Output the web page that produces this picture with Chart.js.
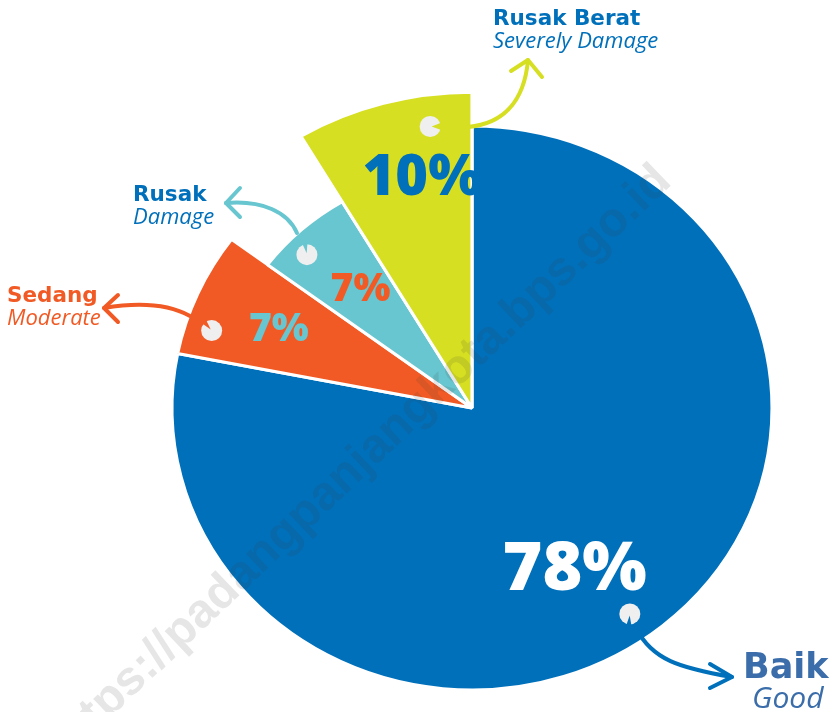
<!DOCTYPE html>
<html>
<head>
<meta charset="utf-8">
<script src="https://cdn.jsdelivr.net/npm/chart.js@4.4.0/dist/chart.umd.min.js"></script>
<style>
  html, body { margin: 0; padding: 0; background: #ffffff; }
  #wrap { position: relative; width: 835px; height: 712px; }
</style>
</head>
<body>
<div id="wrap"><canvas id="kondisiChart" width="835" height="712"></canvas></div>
<script>
// data (slice angles), printed labels kept as shown
const categories = ['Baik', 'Sedang', 'Rusak', 'Rusak Berat'];
const categoriesEn = ['Good', 'Moderate', 'Damage', 'Severely Damage'];
const shares = [78.1, 7.1, 6.3, 8.5];
const percentLabels = ['78%', '7%', '7%', '10%'];

// styles
const sliceColors = ['#0070bb', '#f15a24', '#67c6cf', '#d6df21'];
const percentColors = ['#ffffff', '#67c6cf', '#f15a24', '#0070bb'];
const nameColors = ['#3a6daa', '#f15a24', '#0070bb', '#0070bb'];
const radiusScale = [1, 1, 0.85, 1.12];
const STRETCH = 1.064; // the picture is a bit wider than tall

// where on each slice the text / icon sits: t = along the angle, f = along the radius
const percentPos = [[0.531, 0.67], [0.47, 0.70], [0.52, 0.66], [0.62, 0.74]];
const percentSize = [68, 39, 39, 56];
const iconPos = [[0.513, 0.90], [0.25, 0.91], [0.35, 0.91], [0.74, 0.90]];
const iconNotch = [95, -130, -100, 0];

function polar(arc, t, f) {
    const a = arc.startAngle + t * (arc.endAngle - arc.startAngle);
    const r = f * arc.outerRadius;
    return { x: arc.x + Math.cos(a) * r * STRETCH, y: arc.y + Math.sin(a) * r };
}

const varRadius = {
    id: 'varRadius',
    afterDatasetsUpdate(chart) {
        const meta = chart.getDatasetMeta(0);
        const base = meta.controller.outerRadius;
        meta.data.forEach((arc, i) => { arc.outerRadius = base * radiusScale[i]; });
    },
    beforeDatasetsDraw(chart) {
        const arc = chart.getDatasetMeta(0).data[0];
        const ctx = chart.ctx;
        ctx.save();
        ctx.translate(arc.x, arc.y);
        ctx.scale(STRETCH, 1);
        ctx.translate(-arc.x, -arc.y);
    },
    afterDatasetsDraw(chart) {
        chart.ctx.restore();
    }
};

function arrow(ctx, cx, cy, pts, color) {
    // pts: start, cp1, cp2, end, arm1, arm2 (relative to chart centre)
    const p = pts.map(q => [cx + q[0], cy + q[1]]);
    ctx.save();
    ctx.strokeStyle = color;
    ctx.lineWidth = 4;
    ctx.lineCap = 'round';
    ctx.lineJoin = 'round';
    ctx.beginPath();
    ctx.moveTo(p[0][0], p[0][1]);
    ctx.bezierCurveTo(p[1][0], p[1][1], p[2][0], p[2][1], p[3][0], p[3][1]);
    ctx.stroke();
    ctx.beginPath();
    ctx.moveTo(p[4][0], p[4][1]);
    ctx.lineTo(p[3][0], p[3][1]);
    ctx.lineTo(p[5][0], p[5][1]);
    ctx.stroke();
    ctx.restore();
}

const arrowPaths = [
    [[164, 220], [180, 252], [208, 260], [260, 269], [238, 256], [238, 280]],
    [[-282, -92], [-302, -103], [-332, -106], [-368, -100], [-354, -113], [-354, -86]],
    [[-175, -175], [-184, -196], [-210, -208], [-246, -205], [-232, -220], [-232, -191]],
    [[-4, -281], [28, -284], [52, -303], [56, -348], [39, -337], [70, -331]]
];
// name label anchors relative to centre: [x, y bold baseline, y italic baseline, bold size, italic size, italic dx]
const namePos = [
    [271, 270, 300, 35, 30, 9],
    [-465, -106, -83, 21.5, 22, 0],
    [-339, -207, -184, 21.5, 22, 0],
    [21, -383, -360, 21.5, 22, 0]
];

const decorations = {
    id: 'decorations',
    afterDraw(chart) {
        const ctx = chart.ctx;
        const arcs = chart.getDatasetMeta(0).data;
        const cx = arcs[0].x, cy = arcs[0].y;

        arcs.forEach((arc, i) => {
            // little pie icon
            const ic = polar(arc, iconPos[i][0], iconPos[i][1]);
            ctx.fillStyle = '#efefef';
            ctx.beginPath();
            ctx.arc(ic.x, ic.y, 10.5, 0, Math.PI * 2);
            ctx.fill();
            const d = iconNotch[i] * Math.PI / 180;
            const hw = i === 3 ? 0.32 : 0.22;
            ctx.fillStyle = sliceColors[i];
            ctx.beginPath();
            ctx.moveTo(ic.x + Math.cos(d) * 1.5, ic.y + Math.sin(d) * 1.5);
            ctx.arc(ic.x, ic.y, 11.5, d - hw, d + hw);
            ctx.closePath();
            ctx.fill();

            // percentage
            const p = polar(arc, percentPos[i][0], percentPos[i][1]);
            ctx.fillStyle = percentColors[i];
            ctx.font = '800 ' + percentSize[i] + 'px "Open Sans", sans-serif';
            ctx.textAlign = 'center';
            ctx.textBaseline = 'middle';
            ctx.fillText(percentLabels[i], p.x, p.y);
        });

        arcs.forEach((arc, i) => {
            arrow(ctx, cx, cy, arrowPaths[i], sliceColors[i]);
            const n = namePos[i];
            ctx.textAlign = 'left';
            ctx.textBaseline = 'alphabetic';
            ctx.fillStyle = nameColors[i];
            ctx.font = 'bold ' + n[3] + 'px "DejaVu Sans", sans-serif';
            ctx.fillText(categories[i], cx + n[0], cy + n[1]);
            ctx.font = 'italic 400 ' + n[4] + 'px "Open Sans", sans-serif';
            ctx.fillText(categoriesEn[i], cx + n[0] + n[5], cy + n[2]);
        });

        // watermark, anchored at its right end
        ctx.save();
        ctx.translate(664, 174);
        ctx.rotate(-43.5 * Math.PI / 180);
        ctx.fillStyle = 'rgba(60, 60, 60, 0.13)';
        ctx.font = 'bold 48px "Liberation Sans", Arial, sans-serif';
        ctx.textAlign = 'right';
        ctx.textBaseline = 'middle';
        ctx.fillText('https://padangpanjangkota.bps.go.id', 0, 0);
        ctx.restore();
    }
};

new Chart(document.getElementById('kondisiChart'), {
    type: 'pie',
    data: {
        labels: categories,
        datasets: [{
            data: shares,
            backgroundColor: sliceColors,
            borderColor: '#ffffff',
            borderWidth: 3
        }]
    },
    options: {
        responsive: false,
        animation: false,
        events: [],
        radius: 282,
        layout: { padding: { left: 109, right: 0, top: 104, bottom: 0 } },
        plugins: {
            legend: { display: false },
            tooltip: { enabled: false }
        }
    },
    plugins: [varRadius, decorations]
});
</script>
</body>
</html>
